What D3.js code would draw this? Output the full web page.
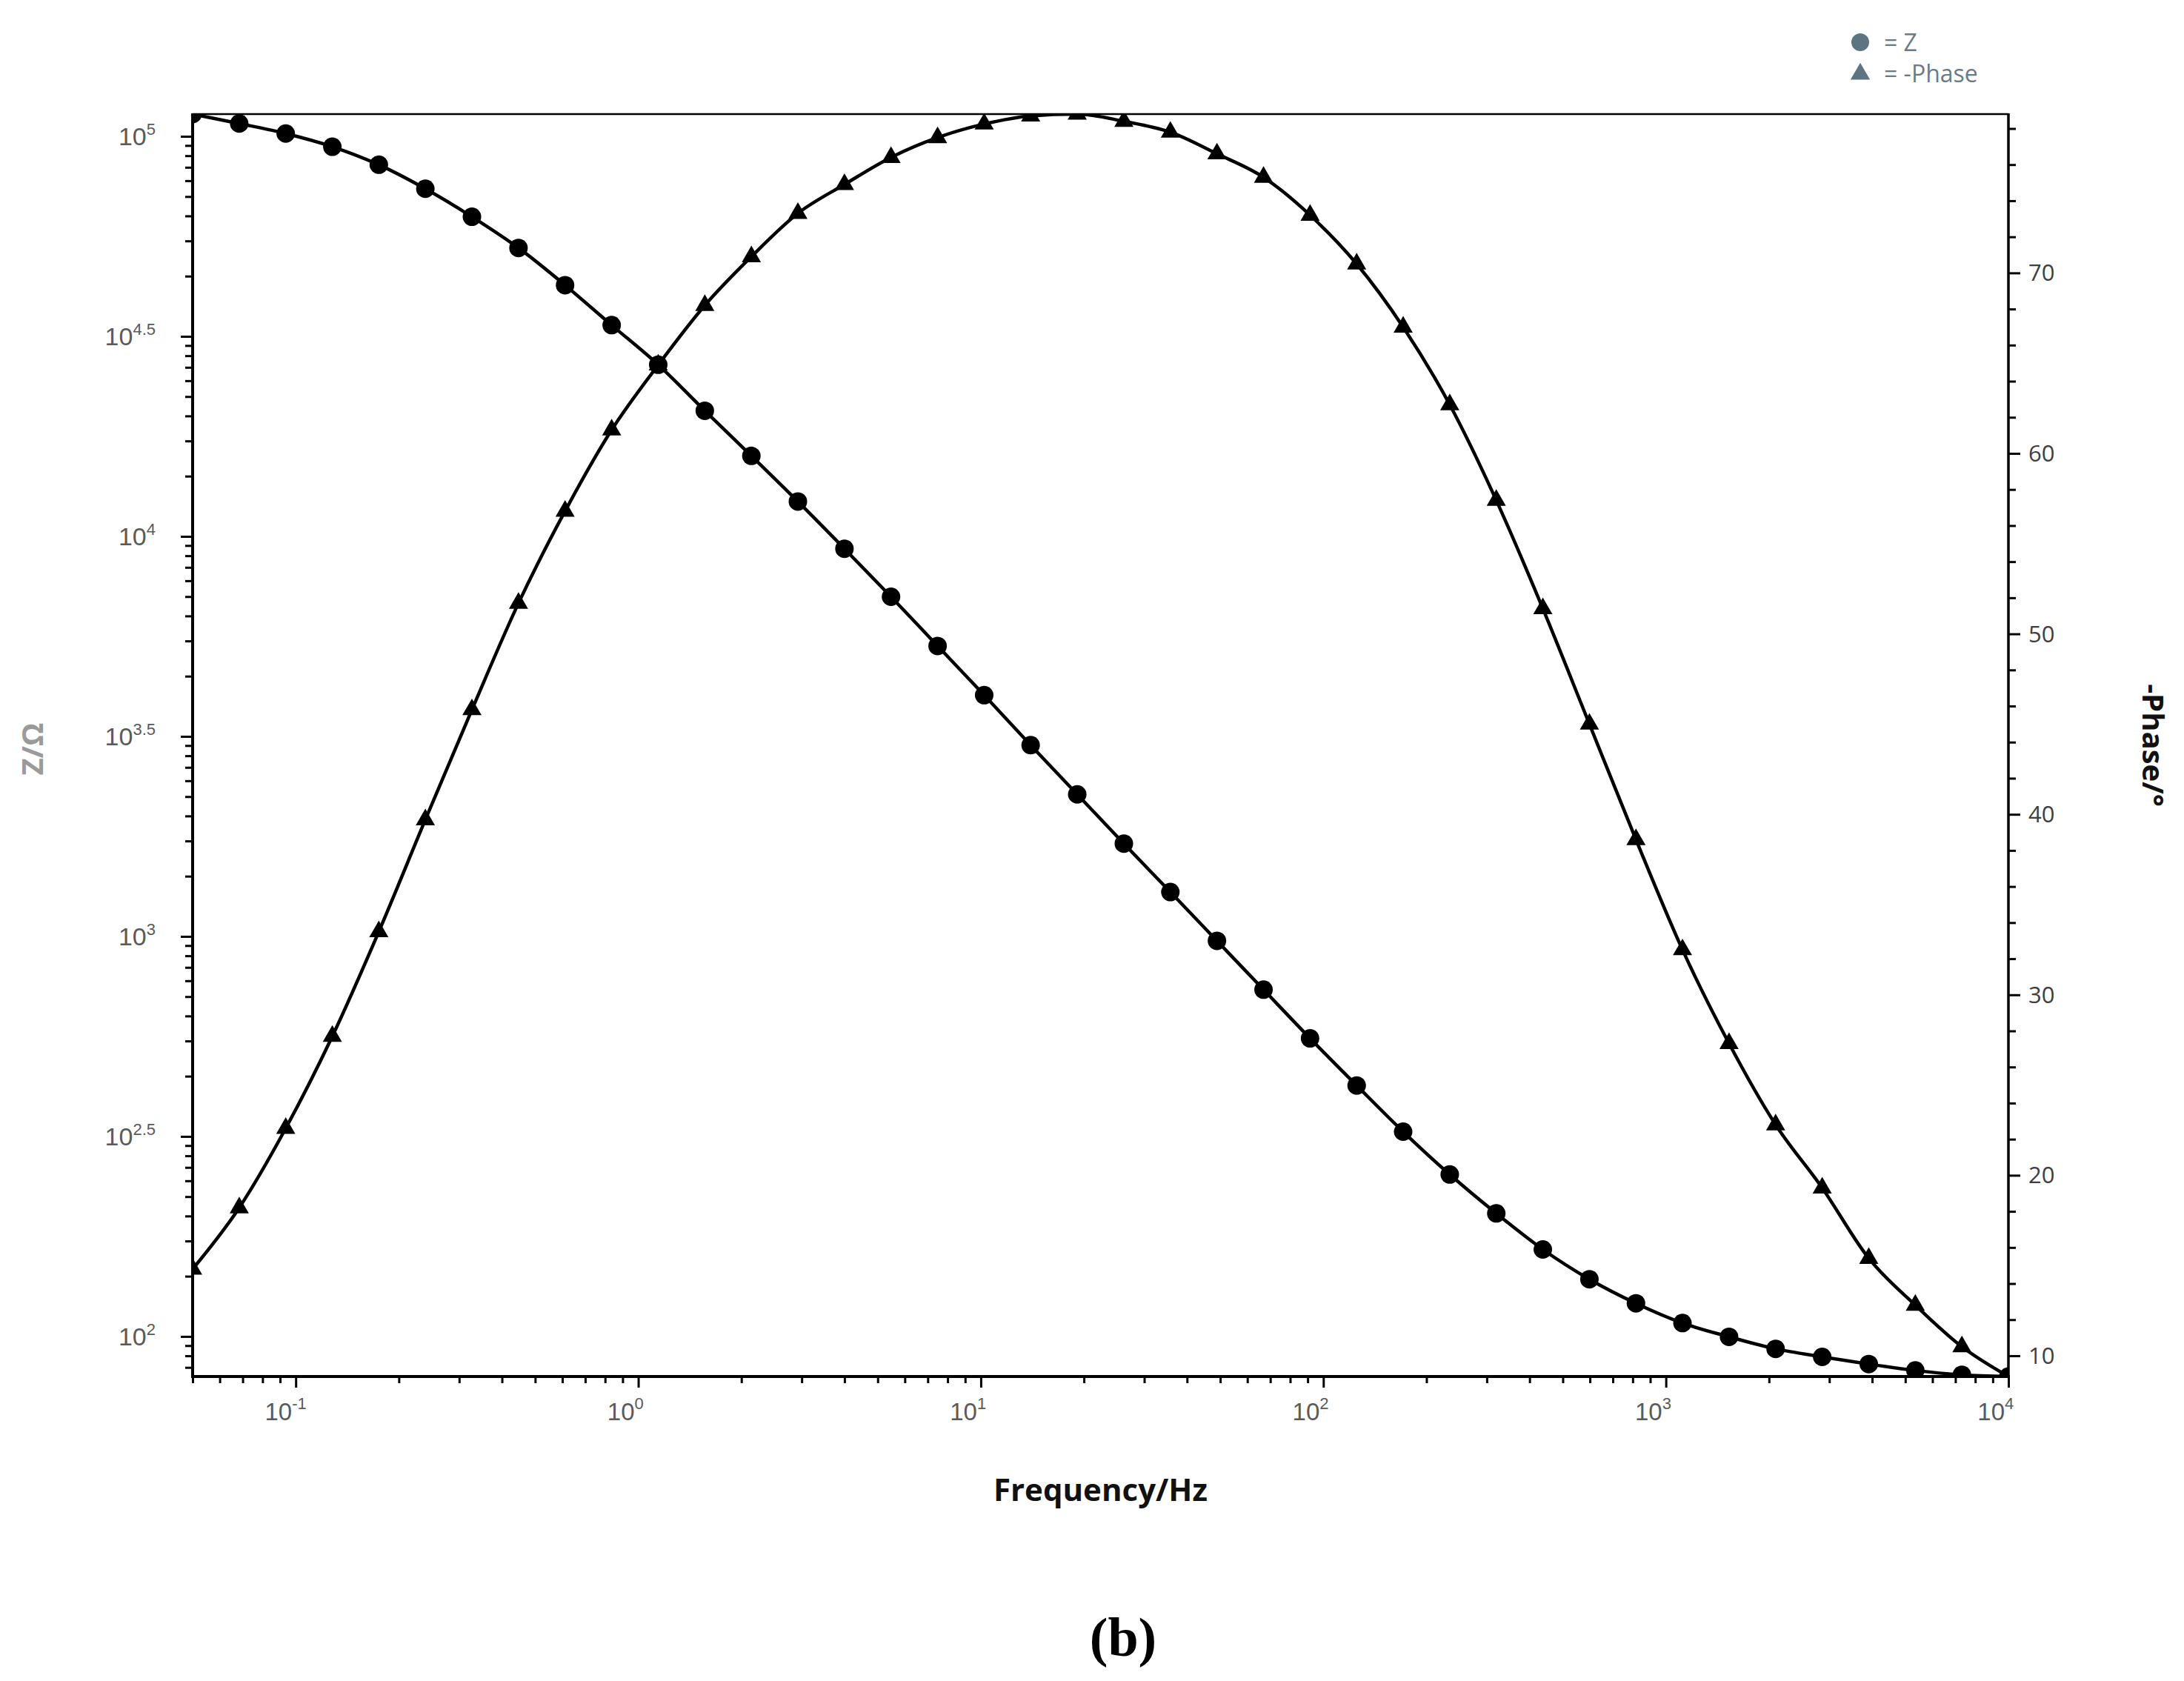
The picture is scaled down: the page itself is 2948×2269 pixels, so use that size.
<!DOCTYPE html>
<html>
<head>
<meta charset="utf-8">
<script src="https://cdn.jsdelivr.net/npm/d3@7"></script>
<style>
  html, body { margin: 0; padding: 0; background: #ffffff; }
  svg { display: block; }
</style>
</head>
<body>
<svg id="chart" width="2948" height="2269"></svg>
<script>
// ---------------- DATA ----------------
const freq = [0.05, 0.0684, 0.0935, 0.1279, 0.1748, 0.239, 0.3269, 0.447, 0.6114, 0.8362,
  1.1436, 1.564, 2.139, 2.924, 3.999, 5.469, 7.479, 10.23, 13.98, 19.12,
  26.16, 35.76, 48.91, 66.89, 91.47, 125.1, 171.0, 233.9, 319.8, 437.3,
  598.1, 817.9, 1118, 1529, 2091, 2860, 3911, 5348, 7314, 10000];

const impedanceZ = [113650, 107650, 101600, 94190, 84920, 73960, 62950, 52600, 42460, 33730,
  26850, 20610, 15890, 12220, 9311, 7063, 5321, 4009, 3006, 2265,
  1706, 1291, 975, 736, 556, 424, 325, 254, 203, 165,
  139, 121, 108, 99.8, 93.1, 88.9, 85.3, 82.2, 80.2, 79.4];

const negPhase = [14.8, 18.2, 22.6, 27.7, 33.5, 39.7, 45.8, 51.7, 56.8, 61.3,
  64.9, 68.2, 70.9, 73.3, 74.9, 76.4, 77.5, 78.25, 78.7, 78.8,
  78.4, 77.8, 76.6, 75.3, 73.2, 70.5, 67.0, 62.7, 57.4, 51.4,
  45.0, 38.6, 32.5, 27.3, 22.8, 19.3, 15.4, 12.8, 10.5, 8.85];

const xTickExps = [-1, 0, 1, 2, 3, 4];
const zTickExps = ["2", "2.5", "3", "3.5", "4", "4.5", "5"];
const phaseTicks = [10, 20, 30, 40, 50, 60, 70];
const legendItems = ["= Z", "= -Phase"];
const xTitle = "Frequency/Hz";
const zTitle = "Z/\u03A9";
const phaseTitle = "-Phase/\u00B0";
const panelLabel = "(b)";

// ---------------- LAYOUT ----------------
const W = 2948, H = 2269;
const L = 260, R = 2711, T = 154, B = 1858;

const svg = d3.select("#chart");

const x = d3.scaleLog().domain([freq[0], freq[freq.length - 1]]).range([L, R]);
const yZ = d3.scaleLog().domain(d3.extent(impedanceZ)).range([B, T]);
const yP = d3.scaleLinear().domain(d3.extent(negPhase)).range([B, T]);

const pts = freq.map((f, i) => ({ f, z: impedanceZ[i], p: negPhase[i] }));

// clip
svg.append("defs").append("clipPath").attr("id", "plotClip")
  .append("rect").attr("x", L).attr("y", T).attr("width", R - L).attr("height", B - T);

const plot = svg.append("g").attr("clip-path", "url(#plotClip)");

const lineZ = d3.line().x(d => x(d.f)).y(d => yZ(d.z)).curve(d3.curveMonotoneX);
const lineP = d3.line().x(d => x(d.f)).y(d => yP(d.p)).curve(d3.curveMonotoneX);

plot.append("path").datum(pts).attr("d", lineZ)
  .attr("fill", "none").attr("stroke", "#000").attr("stroke-width", 4.5);
plot.append("path").datum(pts).attr("d", lineP)
  .attr("fill", "none").attr("stroke", "#000").attr("stroke-width", 4.5);

plot.selectAll("circle.mz").data(pts).enter().append("circle")
  .attr("class", "mz")
  .attr("cx", d => x(d.f)).attr("cy", d => yZ(d.z)).attr("r", 12.5)
  .attr("fill", "#000");

const tri = d3.symbol().type(d3.symbolTriangle).size(290);
plot.selectAll("path.mp").data(pts).enter().append("path")
  .attr("class", "mp")
  .attr("d", tri)
  .attr("transform", d => `translate(${x(d.f)},${yP(d.p)})`)
  .attr("fill", "#000");

// ---------------- AXES ----------------
const axisG = svg.append("g");

// frame lines
axisG.append("line").attr("x1", L).attr("x2", L).attr("y1", T - 1).attr("y2", B + 2)
  .attr("stroke", "#000").attr("stroke-width", 4);
axisG.append("line").attr("x1", L - 2).attr("x2", R + 2).attr("y1", B).attr("y2", B)
  .attr("stroke", "#000").attr("stroke-width", 4);
axisG.append("line").attr("x1", R).attr("x2", R).attr("y1", T - 1).attr("y2", B + 2)
  .attr("stroke", "#000").attr("stroke-width", 3.5);
axisG.append("line").attr("x1", L).attr("x2", R).attr("y1", T).attr("y2", T)
  .attr("stroke", "#000").attr("stroke-width", 2.5);

// x ticks
const xDom = x.domain();
const xMinor = [];
for (let d = -2; d <= 3; d++) {
  for (let k = 2; k <= 9; k++) {
    const v = k * Math.pow(10, d);
    if (v >= xDom[0] - 1e-9 && v <= xDom[1]) xMinor.push(v);
  }
}
const xMajor = xTickExps.map(e => Math.pow(10, e));

axisG.append("g").attr("transform", `translate(0,${B})`)
  .call(d3.axisBottom(x).tickValues(xMinor).tickSize(9).tickFormat(""))
  .call(g => g.select(".domain").remove())
  .call(g => g.selectAll("line").attr("stroke", "#000").attr("stroke-width", 3));
axisG.append("g").attr("transform", `translate(0,${B})`)
  .call(d3.axisBottom(x).tickValues(xMajor).tickSize(15).tickFormat(""))
  .call(g => g.select(".domain").remove())
  .call(g => g.selectAll("line").attr("stroke", "#000").attr("stroke-width", 3));

const tickFontNarrow = "'Liberation Sans Narrow', 'Arial Narrow', 'Liberation Sans', Arial, sans-serif";
const labelGray = "#5a5a5a";

xTickExps.forEach(e => {
  const px = x(Math.pow(10, e));
  axisG.append("text").attr("x", px - 5).attr("y", 1917)
    .attr("text-anchor", "end").attr("font-family", tickFontNarrow)
    .attr("font-size", 33).attr("fill", labelGray).text("10");
  axisG.append("text").attr("x", px - 5).attr("y", 1902)
    .attr("text-anchor", "start").attr("font-family", tickFontNarrow)
    .attr("font-size", 22).attr("fill", labelGray).text(String(e));
});

// left (Z) ticks
const zDom = yZ.domain();
const zMinor = [];
for (let e = 1.5; e <= 4.5; e += 0.5) {
  for (let k = 2; k <= 9; k++) {
    const v = Math.pow(10, e + Math.log10(k) / 2);
    if (v >= zDom[0] && v <= zDom[1]) zMinor.push(v);
  }
}
const zMajor = zTickExps.map(s => Math.pow(10, +s));

axisG.append("g").attr("transform", `translate(${L},0)`)
  .call(d3.axisLeft(yZ).tickValues(zMinor).tickSize(10).tickFormat(""))
  .call(g => g.select(".domain").remove())
  .call(g => g.selectAll("line").attr("stroke", "#000").attr("stroke-width", 3));
axisG.append("g").attr("transform", `translate(${L},0)`)
  .call(d3.axisLeft(yZ).tickValues(zMajor).tickSize(16).tickFormat(""))
  .call(g => g.select(".domain").remove())
  .call(g => g.selectAll("line").attr("stroke", "#000").attr("stroke-width", 3));

zTickExps.forEach(s => {
  const py = yZ(Math.pow(10, +s));
  const t = axisG.append("text").attr("x", 210).attr("y", py + 12)
    .attr("text-anchor", "end").attr("font-family", tickFontNarrow)
    .attr("font-size", 34).attr("fill", labelGray);
  t.append("tspan").text("10");
  t.append("tspan").attr("dy", -14).attr("font-size", 22).text(s);
});

// right (phase) ticks
const pDom = yP.domain();
const pMinor = d3.range(10, 80, 2).filter(v => v % 10 !== 0 && v >= pDom[0] && v <= pDom[1]);

axisG.append("g").attr("transform", `translate(${R},0)`)
  .call(d3.axisRight(yP).tickValues(pMinor).tickSize(10).tickFormat(""))
  .call(g => g.select(".domain").remove())
  .call(g => g.selectAll("line").attr("stroke", "#000").attr("stroke-width", 3));
axisG.append("g").attr("transform", `translate(${R},0)`)
  .call(d3.axisRight(yP).tickValues(phaseTicks).tickSize(16).tickFormat(""))
  .call(g => g.select(".domain").remove())
  .call(g => g.selectAll("line").attr("stroke", "#000").attr("stroke-width", 3));

phaseTicks.forEach(v => {
  axisG.append("text").attr("x", 2738).attr("y", yP(v) + 11)
    .attr("text-anchor", "start")
    .attr("font-family", "'Open Sans', 'Noto Sans', sans-serif")
    .attr("font-size", 31).attr("fill", "#404040").text(v);
});

// ---------------- TITLES ----------------
const titleFont = "'Open Sans', 'Noto Sans', sans-serif";
svg.append("text").attr("x", (L + R) / 2).attr("y", 2026)
  .attr("text-anchor", "middle").attr("font-family", titleFont)
  .attr("font-weight", "bold").attr("font-size", 42).attr("fill", "#111")
  .text(xTitle);

svg.append("text")
  .attr("transform", `translate(58,${(T + B) / 2 + 5}) rotate(-90)`)
  .attr("text-anchor", "middle").attr("font-family", titleFont)
  .attr("font-weight", "bold").attr("font-size", 40).attr("fill", "#9a9a9a")
  .text(zTitle);

svg.append("text")
  .attr("transform", `translate(2892,${(T + B) / 2}) rotate(90)`)
  .attr("text-anchor", "middle").attr("font-family", titleFont)
  .attr("font-weight", "bold").attr("font-size", 40).attr("fill", "#111")
  .text(phaseTitle);

svg.append("text").attr("x", 1516).attr("y", 2235)
  .attr("text-anchor", "middle")
  .attr("font-family", "'Liberation Serif', 'DejaVu Serif', serif")
  .attr("font-weight", "bold").attr("font-size", 74).attr("fill", "#000")
  .text(panelLabel);

// ---------------- LEGEND ----------------
const legColor = "#5f7482";
const legText = "#6b7b86";
const leg = svg.append("g");
leg.append("circle").attr("cx", 2511).attr("cy", 57).attr("r", 12).attr("fill", legColor);
leg.append("path").attr("d", d3.symbol().type(d3.symbolTriangle).size(300))
  .attr("transform", "translate(2511,100)").attr("fill", legColor);
legendItems.forEach((s, i) => {
  leg.append("text").attr("x", 2543).attr("y", 69 + i * 42)
    .attr("font-family", titleFont).attr("font-size", 32).attr("fill", legText)
    .text(s);
});
</script>
</body>
</html>
